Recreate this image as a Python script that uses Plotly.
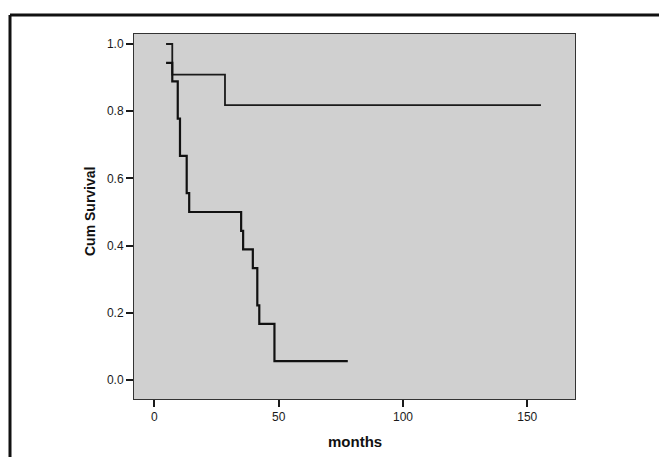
import plotly.graph_objects as go

# Kaplan-Meier step data (months, cumulative survival)
upper_months = [4.7, 7.2, 28.4, 155.5]
upper_surv = [1.0, 0.909, 0.818, 0.818]

lower_months = [4.7, 7.2, 9.4, 10.3, 13.0, 14.0, 34.9, 35.7, 39.6, 41.4, 42.2, 48.3, 77.8]
lower_surv = [0.944, 0.889, 0.778, 0.667, 0.556, 0.5, 0.444, 0.389, 0.333, 0.222, 0.167, 0.056, 0.056]

x_ticks = [0, 50, 100, 150]
y_ticks = [0.0, 0.2, 0.4, 0.6, 0.8, 1.0]
y_ticktext = ["0.0", "0.2", "0.4", "0.6", "0.8", "1.0"]

fig = go.Figure()
fig.add_trace(go.Scatter(x=upper_months, y=upper_surv, mode="lines",
                         line=dict(shape="hv", color="#1a1a1a", width=1.8),
                         showlegend=False, hoverinfo="skip"))
fig.add_trace(go.Scatter(x=lower_months, y=lower_surv, mode="lines",
                         line=dict(shape="hv", color="#111111", width=2.2),
                         showlegend=False, hoverinfo="skip"))

W, H = 659, 457
L, R, T, B = 134, 575, 34, 399

axis_common = dict(showgrid=False, zeroline=False, showline=True, linecolor="#333333",
                   linewidth=1, mirror=True, ticks="outside", ticklen=7, tickwidth=1.6,
                   tickcolor="#1a1a1a",
                   tickfont=dict(family="Liberation Sans, Arial, sans-serif", size=12, color="#1a1a1a"))

fig.update_layout(
    width=W, height=H,
    margin=dict(l=L, r=W - R, t=T, b=H - B, pad=0),
    paper_bgcolor="white",
    plot_bgcolor="#d0d0d0",
    xaxis=dict(range=[-8.2, 169.2], tickvals=x_ticks, **axis_common),
    yaxis=dict(range=[-0.0565, 1.0298], tickvals=y_ticks, ticktext=y_ticktext, **axis_common),
)

# axis titles
fig.add_annotation(text="<b>months</b>", xref="paper", yref="paper", x=0.5, y=(B - 441) / (B - T),
                   showarrow=False, xanchor="center", yanchor="middle",
                   font=dict(family="Liberation Sans, Arial, sans-serif", size=15, color="#111111"))
fig.add_annotation(text="<b>Cum Survival</b>", xref="paper", yref="paper",
                   x=(90 - L) / (R - L), y=(B - 212) / (B - T), textangle=-90,
                   showarrow=False, xanchor="center", yanchor="middle",
                   font=dict(family="Liberation Sans, Arial, sans-serif", size=14, color="#111111"))

# outer page frame (thick border at top and left)
fx = (10 - L) / (R - L)
fy = (B - 15) / (B - T)
fig.add_shape(type="line", xref="paper", yref="paper", x0=fx, x1=fx, y0=fy, y1=-1,
              line=dict(color="#111111", width=3))
fig.add_shape(type="line", xref="paper", yref="paper", x0=fx, x1=3, y0=fy, y1=fy,
              line=dict(color="#111111", width=3))

fig.write_html("out.html")
